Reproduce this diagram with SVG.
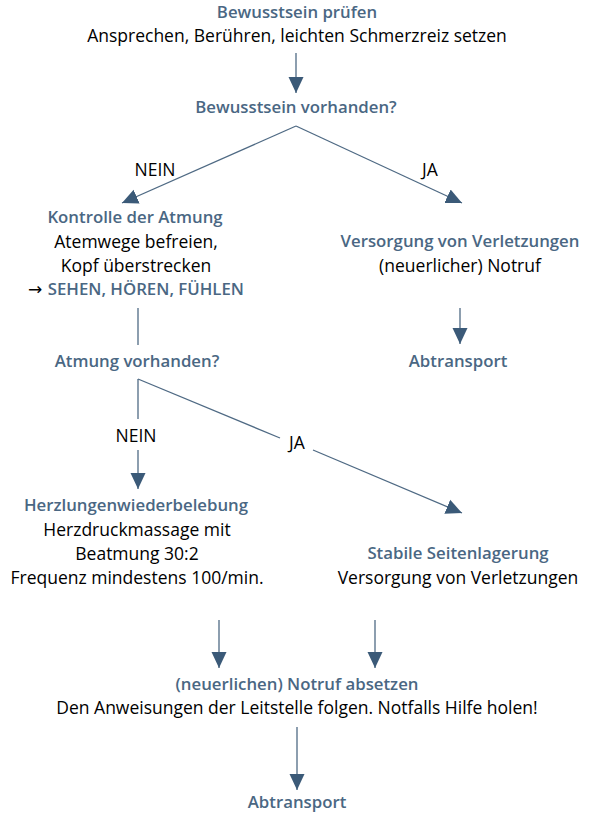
<svg xmlns="http://www.w3.org/2000/svg" width="592" height="816" viewBox="0 0 592 816">
<defs>
<marker id="ah" markerWidth="16" markerHeight="16" refX="16" refY="7.5" viewBox="0 0 16 15" markerUnits="userSpaceOnUse" orient="auto">
<path d="M0,0 L16,7.5 L0,15 Z" fill="#3b5a78"/>
</marker>
<style>
text{font-family:"Open Sans","Noto Sans",sans-serif;font-size:17.5px;text-anchor:middle;fill:#000}
.h{font-weight:600;fill:#4a6783;font-size:16.8px}
.ar{font-family:"DejaVu Sans",sans-serif;font-size:17px}
.c{stroke:#4f6a84;stroke-width:1.3;fill:none}
.a{marker-end:url(#ah)}
</style>
</defs>
<rect width="592" height="816" fill="#fff"/>
<g id="connectors">
<line class="c a" x1="296" y1="53" x2="296" y2="93"/>
<line class="c a" x1="296" y1="126" x2="122" y2="203"/>
<line class="c a" x1="296" y1="126" x2="462" y2="203"/>
<line class="c a" x1="460" y1="308" x2="460" y2="344"/>
<line class="c" x1="138" y1="308" x2="138" y2="345"/>
<line class="c" x1="138" y1="379" x2="138" y2="419"/>
<line class="c a" x1="138" y1="450" x2="138" y2="489"/>
<line class="c" x1="138" y1="379" x2="280" y2="438"/>
<line class="c a" x1="313" y1="450" x2="462" y2="513"/>
<line class="c a" x1="219" y1="620" x2="219" y2="668"/>
<line class="c a" x1="375" y1="620" x2="375" y2="668"/>
<line class="c a" x1="297" y1="727" x2="297" y2="790"/>
</g>
<g id="n1">
<text class="h" x="297" y="18">Bewusstsein prüfen</text>
<text x="297" y="42">Ansprechen, Berühren, leichten Schmerzreiz setzen</text>
</g>
<g id="n2"><text class="h" x="296" y="113">Bewusstsein vorhanden?</text></g>
<g id="l1"><text x="155" y="176">NEIN</text></g>
<g id="l2"><text x="430" y="176">JA</text></g>
<g id="n3">
<text class="h" x="135" y="223">Kontrolle der Atmung</text>
<text x="136" y="248">Atemwege befreien,</text>
<text x="136" y="272">Kopf überstrecken</text>
<text x="136" y="295"><tspan class="ar">→ </tspan><tspan class="h">SEHEN, HÖREN, FÜHLEN</tspan></text>
</g>
<g id="n4">
<text class="h" x="460" y="247">Versorgung von Verletzungen</text>
<text x="460" y="272">(neuerlicher) Notruf</text>
</g>
<g id="n5"><text class="h" x="458" y="367">Abtransport</text></g>
<g id="n6"><text class="h" x="137" y="367">Atmung vorhanden?</text></g>
<g id="l3"><text x="136" y="442">NEIN</text></g>
<g id="l4"><text x="297" y="449">JA</text></g>
<g id="n7">
<text class="h" x="136" y="511">Herzlungenwiederbelebung</text>
<text x="137" y="536">Herzdruckmassage mit</text>
<text x="137" y="560">Beatmung 30:2</text>
<text x="137" y="584">Frequenz mindestens 100/min.</text>
</g>
<g id="n8">
<text class="h" x="458" y="559">Stabile Seitenlagerung</text>
<text x="458" y="584">Versorgung von Verletzungen</text>
</g>
<g id="n9">
<text class="h" x="297" y="690">(neuerlichen) Notruf absetzen</text>
<text x="297" y="714">Den Anweisungen der Leitstelle folgen. Notfalls Hilfe holen!</text>
</g>
<g id="n10"><text class="h" x="297" y="808">Abtransport</text></g>
</svg>
